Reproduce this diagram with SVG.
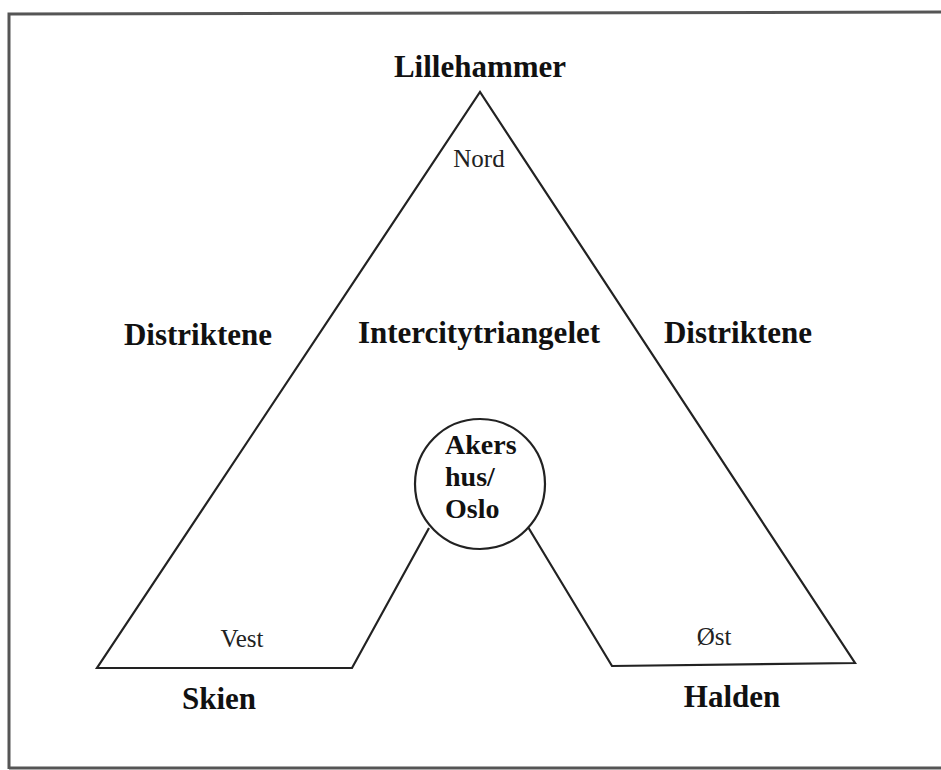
<svg xmlns="http://www.w3.org/2000/svg" width="941" height="770" viewBox="0 0 941 770">
<style>
.b{font-family:"Liberation Serif",serif;font-weight:bold;font-size:31px;fill:#111}
.c{font-family:"Liberation Serif",serif;font-weight:bold;font-size:28px;fill:#111}
.r{font-family:"Liberation Serif",serif;font-size:25px;fill:#222}
.ln{fill:none;stroke:#222;stroke-width:2.2;stroke-linejoin:miter}
.frame{fill:none;stroke:#555;stroke-width:3}
</style>
<rect width="941" height="770" fill="#fff"/>
<path class="frame" d="M9,769 L9,14 L941,12 M9,768 L941,768"/>
<g id="connectors">
<path class="ln" d="M429,528 L352,668 L97,668 L480,92 L855,663 L612,666 L528,527"/>
</g>
<g id="lillehammer"><text class="b" x="480" y="77" text-anchor="middle">Lillehammer</text></g>
<g id="nord"><text class="r" x="479" y="167" text-anchor="middle">Nord</text></g>
<g id="distriktene-vest"><text class="b" x="198" y="345" text-anchor="middle">Distriktene</text></g>
<g id="intercitytriangelet"><text class="b" x="479" y="343" text-anchor="middle">Intercitytriangelet</text></g>
<g id="distriktene-ost"><text class="b" x="738" y="343" text-anchor="middle">Distriktene</text></g>
<g id="akershus-oslo">
<circle cx="480" cy="484" r="65" fill="#fff" stroke="#222" stroke-width="2.2"/>
<text class="c" x="445" y="454">Akers</text>
<text class="c" x="445" y="486">hus/</text>
<text class="c" x="445" y="518">Oslo</text>
</g>
<g id="vest"><text class="r" x="242" y="647" text-anchor="middle">Vest</text></g>
<g id="ost"><text class="r" x="714" y="645" text-anchor="middle">Øst</text></g>
<g id="skien"><text class="b" x="219" y="709" text-anchor="middle">Skien</text></g>
<g id="halden"><text class="b" x="732" y="707" text-anchor="middle">Halden</text></g>
</svg>
